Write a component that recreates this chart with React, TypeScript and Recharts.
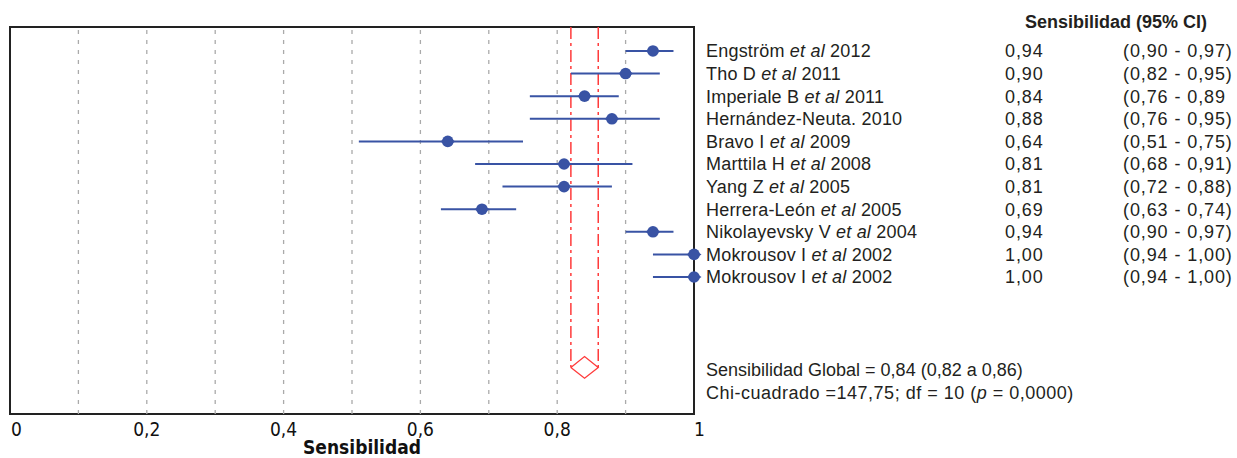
import { ComposedChart, Scatter, ErrorBar, XAxis, YAxis, ReferenceLine, ReferenceArea } from "recharts";

const studyLabels = [
  "Engström et al 2012",
  "Tho D et al 2011",
  "Imperiale B et al 2011",
  "Hernández-Neuta. 2010",
  "Bravo I et al 2009",
  "Marttila H et al 2008",
  "Yang Z et al 2005",
  "Herrera-León et al 2005",
  "Nikolayevsky V et al 2004",
  "Mokrousov I et al 2002",
  "Mokrousov I et al 2002",
];
const estimates = [0.94, 0.9, 0.84, 0.88, 0.64, 0.81, 0.81, 0.69, 0.94, 1.0, 1.0];
const lowerCI = [0.9, 0.82, 0.76, 0.76, 0.51, 0.68, 0.72, 0.63, 0.9, 0.94, 0.94];
const upperCI = [0.97, 0.95, 0.89, 0.95, 0.75, 0.91, 0.88, 0.74, 0.97, 1.0, 1.0];
const estimateTexts = ["0,94", "0,90", "0,84", "0,88", "0,64", "0,81", "0,81", "0,69", "0,94", "1,00", "1,00"];
const ciTexts = [
  "(0,90 - 0,97)",
  "(0,82 - 0,95)",
  "(0,76 - 0,89",
  "(0,76 - 0,95)",
  "(0,51 - 0,75)",
  "(0,68 - 0,91)",
  "(0,72 - 0,88)",
  "(0,63 - 0,74)",
  "(0,90 - 0,97)",
  "(0,94 - 1,00)",
  "(0,94 - 1,00)",
];
const xTicks = [0, 0.2, 0.4, 0.6, 0.8, 1];
const gridValues = [0.1, 0.2, 0.3, 0.4, 0.5, 0.6, 0.7, 0.8, 0.9];
const pooledEstimate = 0.84;
const pooledLow = 0.82;
const pooledHigh = 0.86;
const pooledRow = 14;
const yDomain: [number, number] = [-1.06, 16.06];

const studyData = estimates.map((e, i) => ({
  x: e,
  y: i,
  err: [e - lowerCI[i], upperCI[i] - e],
}));
const rowTicks = studyLabels.map((_, i) => i);

const diamondHalf = 0.48;
const diamondData = [
  { x: pooledLow, y: pooledRow },
  { x: pooledEstimate, y: pooledRow - diamondHalf },
  { x: pooledHigh, y: pooledRow },
  { x: pooledEstimate, y: pooledRow + diamondHalf },
  { x: pooledLow, y: pooledRow },
];

const BLUE = "#3953a4";
const RED = "#ff3b3b";
const TEXT = "#231f20";
const FONT = "'Liberation Sans', Arial, sans-serif";
const AXIS_FONT = "'Liberation Sans Narrow', 'DejaVu Sans Condensed', 'Liberation Sans', sans-serif";

const StudyMarker = (props: any) => {
  const { cx, cy } = props;
  return (
    <g>
      <circle cx={cx} cy={cy} r={5.8} fill={BLUE} />
      <polygon points={`${cx - 7.5},${cy} ${cx},${cy - 5} ${cx + 7.5},${cy} ${cx},${cy + 5}`} fill={BLUE} />
    </g>
  );
};

const RowTick = (props: any) => {
  const { x, y, payload } = props;
  const i = payload.value;
  const parts = studyLabels[i].split(" et al ");
  return (
    <g fontFamily={FONT} fontSize={18} fill={TEXT}>
      <text x={x} y={y} dy="0.36em" fill={TEXT} letterSpacing={0.2}>
        {parts.length > 1 ? (
          <>
            {parts[0] + " "}
            <tspan fontStyle="italic">et al</tspan>
            {" " + parts[1]}
          </>
        ) : (
          parts[0]
        )}
      </text>
      <text x={x + 299} y={y} dy="0.36em" fill={TEXT} letterSpacing={0.9}>
        {estimateTexts[i]}
      </text>
      <text x={x + 417} y={y} dy="0.36em" fill={TEXT} letterSpacing={0.9}>
        {ciTexts[i]}
      </text>
    </g>
  );
};

const XTick = (props: any) => {
  const { x, y, payload } = props;
  const v = payload.value;
  const label = String(v).replace(".", ",");
  let anchor: "start" | "middle" = "middle";
  let dx = 0;
  if (v === 0) {
    anchor = "start";
    dx = 1;
  } else if (v === 1) {
    anchor = "start";
    dx = 0;
  }
  return (
    <text x={x + dx} y={y} dy={14} textAnchor={anchor} fontFamily={AXIS_FONT} fontSize={19} fill="#111">
      {label}
    </text>
  );
};

export default function App() {
  return (
    <div style={{ position: "absolute", left: 0, top: 0, width: 1237, height: 458, background: "#fff" }}>
      <ComposedChart width={1237} height={458} margin={{ top: 27, right: 0, left: 10, bottom: 0 }}>
        <XAxis
          type="number"
          dataKey="x"
          domain={[0, 1]}
          ticks={xTicks}
          axisLine={false}
          tickLine={false}
          height={44}
          tick={<XTick />}
          label={{
            value: "Sensibilidad",
            position: "insideBottom",
            offset: 0,
            dx: 10,
            dy: -4,
            style: { fontFamily: AXIS_FONT, fontSize: 19, fontWeight: "bold", fill: "#111" },
          }}
        />
        <YAxis
          type="number"
          dataKey="y"
          orientation="right"
          domain={yDomain}
          reversed
          ticks={rowTicks}
          interval={0}
          width={543}
          axisLine={false}
          tickLine={false}
          tickSize={0}
          tickMargin={12}
          tick={<RowTick />}
        />
        {gridValues.map((g) => (
          <ReferenceLine key={g} x={g} stroke="#aaaaaa" strokeWidth={1.3} strokeDasharray="4 6" />
        ))}
        <ReferenceLine
          segment={[
            { x: pooledLow, y: yDomain[0] },
            { x: pooledLow, y: pooledRow },
          ]}
          stroke={RED}
          strokeWidth={1.5}
          strokeDasharray="12 4 3 4"
        />
        <ReferenceLine
          segment={[
            { x: pooledHigh, y: yDomain[0] },
            { x: pooledHigh, y: pooledRow },
          ]}
          stroke={RED}
          strokeWidth={1.5}
          strokeDasharray="12 4 3 4"
        />
        <Scatter
          data={diamondData}
          line={{ stroke: RED, strokeWidth: 1.3 }}
          shape={() => <g />}
          isAnimationActive={false}
        />
        <Scatter data={studyData} shape={<StudyMarker />} isAnimationActive={false}>
          <ErrorBar dataKey="err" direction="x" width={0} stroke={BLUE} strokeWidth={2} />
        </Scatter>
        <ReferenceArea
          x1={0}
          x2={1}
          y1={yDomain[0]}
          y2={yDomain[1]}
          fill="none"
          fillOpacity={0}
          stroke="#222"
          strokeWidth={2}
        />
      </ComposedChart>
      <div
        style={{
          position: "absolute",
          left: 1025,
          top: 11,
          fontFamily: FONT,
          fontSize: 18,
          lineHeight: "22px",
          fontWeight: "bold",
          color: TEXT,
          whiteSpace: "nowrap",
        }}
      >
        Sensibilidad (95% CI)
      </div>
      <div
        style={{
          position: "absolute",
          left: 706,
          top: 359,
          fontFamily: FONT,
          fontSize: 18,
          lineHeight: "22.6px",
          color: TEXT,
          whiteSpace: "nowrap",
        }}
      >
        <div>Sensibilidad Global = 0,84 (0,82 a 0,86)</div>
        <div style={{ letterSpacing: 0.5 }}>
          Chi-cuadrado =147,75; df = 10 (<i>p</i> = 0,0000)
        </div>
      </div>
    </div>
  );
}
